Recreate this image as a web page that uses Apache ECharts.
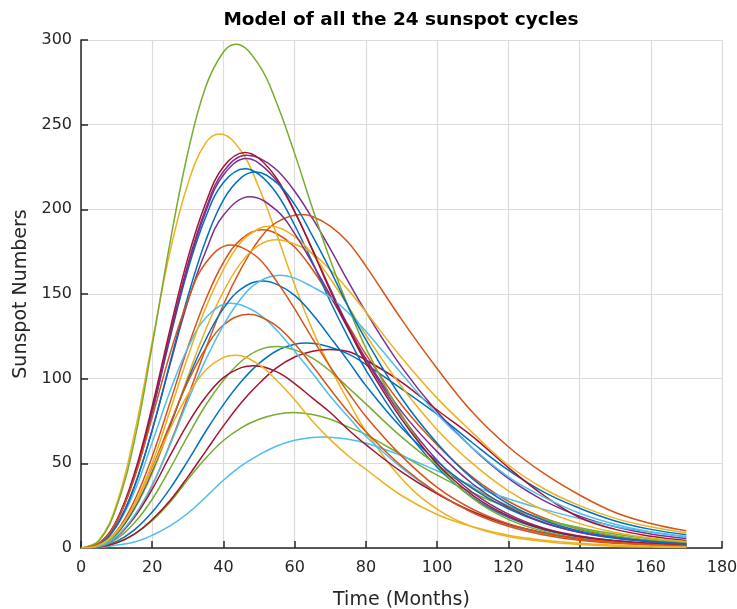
<!DOCTYPE html>
<html>
<head>
<meta charset="utf-8">
<script src="https://cdn.jsdelivr.net/npm/echarts/dist/echarts.min.js"></script>
<style>
html,body{margin:0;padding:0;background:#fff;}
#chart{width:737px;height:609px;}
</style>
</head>
<body>
<div id="chart"></div>
<script>
// Time axis (months) at which each model curve is sampled
var months = [0,5,10,15,20,25,30,35,40,45,50,55,60,65,70,75,80,90,100,110,120,130,140,150,160,170];

// Model values (sunspot numbers), one array per cycle
var cycle1  = [0,0.6,3.9,10.7,21.2,35.1,51.5,68.8,84.7,98.3,109,116.5,120.3,120.8,118.6,114.6,108.4,94,79,62,46,33,23.5,16,11,7.8];
var cycle2  = [0,1.5,10,28,54,85.9,118.4,146.6,168.6,182.4,187.8,185.6,177.8,164.5,148.3,131.8,114.3,84.6,60.9,41.7,27.6,17.7,11.1,6.8,4.3,2.8];
var cycle3  = [0,4.6,26,67.5,121.8,175,215,239.2,244,234.3,212.7,184.8,155.4,128.8,106.5,87,69,41,23,12.5,6.8,3.8,2,1.1,0.6,0.3];
var cycle4  = [0,2.5,15.8,42.9,81.4,126,167.5,200.2,222.3,231.3,230.4,223.2,210.7,194.6,176.6,157.5,139.4,107,80.5,58.8,41.1,28,18.8,12.5,8.3,5.6];
var cycle5  = [0,0.4,3,8.2,16.2,27,40.5,53,63.5,71,76,79,79.9,78.8,76,71.5,67,55,43,32.5,24,17,12,8.2,5.5,3.7];
var cycle6  = [0,0.3,1.8,3.5,7.5,13,20.5,30,40,48.5,55,60.2,63.6,65.3,65.5,64.2,62,54.5,45.6,36.7,29.1,22.8,17.4,12.7,9.4,6.8];
var cycle7  = [0,0.5,3,8.2,16.8,28,42,57.1,72.1,85.8,97.1,106.5,112.8,116.2,117,116,111,98,81.5,65.8,47.5,31,18,11,7,4.5];
var cycle8  = [0,2.5,15.7,42.3,80.4,123.9,164.2,195.3,215.9,223.8,220.6,209.2,190.6,168.7,145.6,124.5,105.1,73,47.7,29.8,18.1,10.8,6.5,4,2.5,1.5];
var cycle9  = [0,1,6.7,18.7,37,61.5,89.2,117.6,143.8,165.1,182,192.5,196.6,195.8,190.1,180.6,166.5,135,106,80,59.8,44,31.3,21,14.5,10.2];
var cycle10 = [0,1.3,8.2,22.8,44,71.7,101.2,128.9,151.4,168.7,178.9,182,179.5,174,164.3,152.5,139.4,112.5,88.5,68,49,35,25,17.5,12.5,9];
var cycle11 = [0,2.5,15.6,42.6,80.7,124.9,166.1,198.5,220.3,229.3,227.2,216.7,198.5,176.4,153,131.1,111.3,78,51.8,32.7,20,11.7,7.1,4.4,2.8,1.6];
var cycle12 = [0,0.8,5.4,14.9,28.8,46.9,66.2,84.3,99,110.3,117,119,117,112.1,104.4,94.8,85.1,65.6,49,35.7,24.9,16.9,11.3,7.3,4.6,3.2];
var cycle13 = [0,2.2,12.9,33.4,62.4,92.6,118.1,135.8,143.8,143.5,138.1,128.5,116.2,103.2,89.6,77.5,66,47.5,32.4,21.4,13.6,8.4,5.2,3.3,2.2,1.3];
var cycle14 = [0,1,6.5,18.1,34.7,54.5,73.5,89.2,100.6,106.5,107.4,104,97.1,88.5,80,70,61,45,32,21.5,14,9,5.5,3.5,2.2,1.4];
var cycle15 = [0,1.2,8.4,23.5,45.3,72.1,99.4,123,141.5,153,157.5,155.7,149.2,138,124.4,110.5,95.9,71,51.1,35,23.2,14.8,9.3,5.7,3.6,2.4];
var cycle16 = [0,1.4,9.2,24.8,47.5,73.4,98.1,117.9,131.7,137.5,136.9,131,120.6,107.6,93.8,80.5,68.7,48.4,32.6,20.8,12.8,7.7,4.6,2.8,1.8,1.1];
var cycle17 = [0,1.3,9.1,25.8,50,81.1,112.9,141.7,164.4,180.9,188.7,189.2,183.9,173.5,159,142.9,125.8,95.4,69.9,49.8,33.8,22.2,14.4,9.1,5.9,3.8];
var cycle18 = [0,2.1,13.5,36.5,69.7,108.3,145.5,175.1,196.5,206.3,206.5,199.2,185.7,167.9,149.2,129.5,111.8,80.7,56.9,37.8,24.1,15.1,9.3,6,3.7,2.3];
var cycle19 = [0,4.2,24.4,63.3,119.7,180.4,233.4,272.3,292.9,296,285.2,262.5,232.9,200.6,170.1,142.7,118.1,78.7,49.1,29.3,16.9,9.8,5.7,3.5,2.1,1.2];
var cycle20 = [0,1,6.9,19.2,37.2,60.9,86.8,111.1,131.5,147.5,157.3,160.8,159.4,154.2,148,139,128,103,79,59,42,30,20.5,14,9.5,6.5];
var cycle21 = [0,2.6,16.4,44.1,83.8,129.1,171.2,203.6,225.1,233.3,230,218.1,198.7,175.8,151.8,129.8,109.5,76.1,49.7,31.1,18.9,11.2,6.8,4.2,2.6,1.5];
var cycle22 = [0,2,12.9,36.2,69.7,109.4,148.5,181.4,205.6,218.7,221.6,215.6,202.9,184.3,164.1,142.5,123,88.6,61.9,40.8,26,16.2,10,6.2,4,2.4];
var cycle23 = [0,2.7,15.9,41.3,77.3,114.7,146.2,168.3,178.1,177.6,170.8,157.3,141.2,123.7,107,92,77.7,54.4,35.8,22.9,14.3,8.8,5.4,3.4,2.1,1.3];
var cycle24 = [0,1.6,9.7,24.9,46.8,70.2,90.5,105,112.4,113.1,108.3,98.9,87.5,74.9,64,54.5,46.5,31,19.8,12.5,7.5,4.6,2.8,1.7,1,0.6];

// Peak of each cycle's curve (month, sunspot number)
var peakMonth = [63.4,51,39,46.5,59.5,67.7,69.5,46,62,55,46.5,55,42,48.5,51,47,53,47.5,43.5,56,46,49,42,43.5];
var peakValue = [121,188,244.5,232,80,65.6,117.2,224,197,182,230,119,144.5,107.7,157.7,138,190,207.5,297.5,161,233.5,222,179,113.8];

var cycles = [cycle1,cycle2,cycle3,cycle4,cycle5,cycle6,cycle7,cycle8,cycle9,cycle10,cycle11,cycle12,
              cycle13,cycle14,cycle15,cycle16,cycle17,cycle18,cycle19,cycle20,cycle21,cycle22,cycle23,cycle24];

var xTicks = [0,20,40,60,80,100,120,140,160,180];
var yTicks = [0,50,100,150,200,250,300];

var palette = ['#0072BD','#D95319','#EDB120','#7E2F8E','#77AC30','#4DBEEE','#A2142F'];
var FONT = 'DejaVu Sans';
var AX = '#262626';

function buildPoints(vals, i) {
  var pts = [];
  var tp = peakMonth[i];
  months.forEach(function (m, j) {
    if (Math.abs(m - tp) >= 2.6) pts.push([m, vals[j]]);
  });
  pts.push([tp, peakValue[i]]);
  pts.sort(function (a, b) { return a[0] - b[0]; });
  return pts;
}

var series = cycles.map(function (vals, i) {
  var c = palette[i % palette.length];
  return {
    name: 'Cycle ' + (i + 1),
    type: 'line',
    data: buildPoints(vals, i),
    showSymbol: false,
    smooth: 0.4,
    lineStyle: { width: 1.5, color: c },
    itemStyle: { color: c },
    emphasis: { disabled: true }
  };
});

var chart = echarts.init(document.getElementById('chart'), null, { renderer: 'canvas' });
chart.setOption({
  animation: false,
  backgroundColor: '#ffffff',
  title: {
    text: 'Model of all the 24 sunspot cycles',
    left: 401, top: 11, textAlign: 'center', padding: 0,
    textStyle: { fontFamily: FONT, fontWeight: 'bold', fontSize: 18.5, color: '#000' }
  },
  grid: { left: 81, right: 15, top: 40, bottom: 61, containLabel: false, outerBoundsMode: 'none' },
  xAxis: {
    type: 'value', min: xTicks[0], max: xTicks[xTicks.length - 1], interval: 20,
    name: 'Time (Months)', nameLocation: 'middle', nameGap: 43,
    nameTextStyle: { fontFamily: FONT, fontSize: 19, color: AX },
    axisLine: { onZero: false, lineStyle: { color: AX, width: 1.5 } },
    axisTick: { inside: true, length: 7, lineStyle: { color: AX, width: 1.5 } },
    axisLabel: { margin: 12, fontFamily: FONT, fontSize: 16, color: AX },
    splitLine: { show: true, lineStyle: { color: '#dcdcdc', width: 1.2 } }
  },
  yAxis: {
    type: 'value', min: yTicks[0], max: yTicks[yTicks.length - 1], interval: 50,
    name: 'Sunspot Numbers', nameLocation: 'middle', nameGap: 49,
    nameTextStyle: { fontFamily: FONT, fontSize: 19, color: AX },
    axisLine: { show: true, onZero: false, lineStyle: { color: AX, width: 1.5 } },
    axisTick: { show: true, inside: true, length: 7, lineStyle: { color: AX, width: 1.5 } },
    axisLabel: { margin: 9, fontFamily: FONT, fontSize: 16, color: AX },
    splitLine: { show: true, lineStyle: { color: '#dcdcdc', width: 1.2 } }
  },
  series: series
});
</script>
</body>
</html>
